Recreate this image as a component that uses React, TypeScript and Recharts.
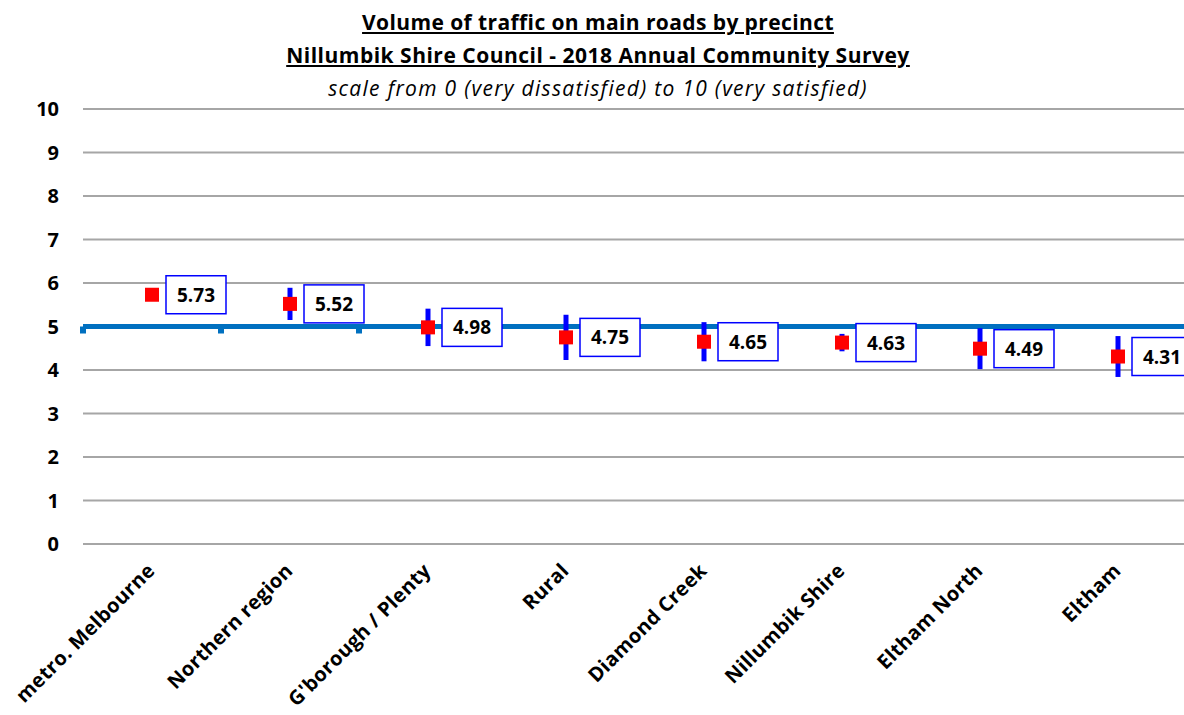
import { ComposedChart, Line, XAxis, YAxis, CartesianGrid, ReferenceLine, ErrorBar, LabelList } from 'recharts'

const precincts = [
  'metro. Melbourne',
  'Northern region',
  "G'borough / Plenty",
  'Rural',
  'Diamond Creek',
  'Nillumbik Shire',
  'Eltham North',
  'Eltham',
]
const scores = [5.73, 5.52, 4.98, 4.75, 4.65, 4.63, 4.49, 4.31]
// half-width of the 95% confidence interval
const intervals = [0.08, 0.37, 0.43, 0.52, 0.45, 0.2, 0.47, 0.47]
const yTicks = [0, 1, 2, 3, 4, 5, 6, 7, 8, 9, 10]
const benchmark = 5

const FONT = '"Open Sans", sans-serif'

const data = precincts.map((name, i) => ({ name, score: scores[i], ci: intervals[i] }))

const SquareDot = ({ cx, cy }: any) => {
  if (cx == null || cy == null) return null
  return <rect x={cx - 7} y={cy - 7} width={14} height={14} fill="#FF0000" />
}

const ValueBox = ({ x, y, value }: any) => {
  if (x == null || y == null) return null
  return (
    <g>
      <rect x={x + 14} y={y - 19} width={60} height={38} fill="#fff" stroke="#0000FF" strokeWidth={1.5} />
      <text x={x + 44} y={y + 7} textAnchor="middle" fontFamily={FONT} fontWeight={700} fontSize={19} fill="#000">
        {Number(value).toFixed(2)}
      </text>
    </g>
  )
}

const AngledTick = ({ x, y, payload }: any) => (
  <text
    x={x + 4}
    y={y + 20}
    transform={`rotate(-45, ${x + 4}, ${y + 20})`}
    textAnchor="end"
    fontFamily={FONT}
    fontWeight={700}
    fontSize={20}
    letterSpacing={0.3}
    fill="#000"
  >
    {payload.value}
  </text>
)

// benchmark line with the little category ticks hanging under it
const BenchmarkLine = ({ x1, x2, y1 }: any) => {
  if (x1 == null) return null
  const step = (x2 - x1) / precincts.length
  return (
    <g>
      <line x1={x1} x2={x2} y1={y1} y2={y1} stroke="#0070C0" strokeWidth={5} />
      {precincts.map((_, i) => (
        <rect key={i} x={x1 + i * step - 3} y={y1} width={6} height={7} fill="#0070C0" />
      ))}
    </g>
  )
}

const titleStyle = {
  position: 'absolute' as const,
  left: 598,
  transform: 'translateX(-50%)',
  whiteSpace: 'nowrap' as const,
  fontFamily: FONT,
  fontSize: 21,
  color: '#000',
  lineHeight: '24px',
}

export default function App() {
  return (
    <div style={{ position: 'absolute', left: 0, top: 0, width: 1184, height: 715, background: '#fff' }}>
      <div style={{ ...titleStyle, top: 10, fontWeight: 700, textDecoration: 'underline', letterSpacing: 0.4 }}>
        Volume of traffic on main roads by precinct
      </div>
      <div style={{ ...titleStyle, top: 43, fontWeight: 700, textDecoration: 'underline', letterSpacing: 0.5 }}>
        Nillumbik Shire Council - 2018 Annual Community Survey
      </div>
      <div style={{ ...titleStyle, top: 76, fontStyle: 'italic', letterSpacing: 1.3 }}>
        scale from 0 (very dissatisfied) to 10 (very satisfied)
      </div>
      <ComposedChart width={1184} height={715} data={data} margin={{ top: 109, right: -3, bottom: 0, left: 0 }}>
        <CartesianGrid vertical={false} stroke="#A6A6A6" strokeWidth={2} />
        <XAxis
          dataKey="name"
          scale="band"
          height={171}
          axisLine={false}
          tickLine={false}
          interval={0}
          tick={<AngledTick />}
        />
        <YAxis
          width={83}
          domain={[0, 10]}
          ticks={yTicks}
          axisLine={false}
          tickLine={false}
          tickSize={0}
          tickMargin={24}
          tick={{ fill: '#000', fontSize: 20, fontWeight: 700, fontFamily: FONT }}
        />
        <ReferenceLine y={benchmark} shape={<BenchmarkLine />} />
        <Line
          dataKey="score"
          stroke="none"
          isAnimationActive={false}
          dot={<SquareDot />}
          activeDot={false}
        >
          <ErrorBar dataKey="ci" width={0} stroke="#0000FF" strokeWidth={5} />
          <LabelList dataKey="score" content={<ValueBox />} />
        </Line>
      </ComposedChart>
    </div>
  )
}
